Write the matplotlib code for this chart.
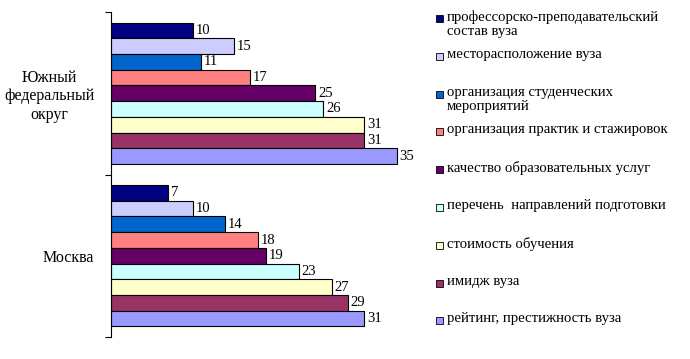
import numpy as np
import matplotlib.pyplot as plt
from matplotlib.patches import Rectangle

plt.rcParams['font.family'] = ['Liberation Serif', 'DejaVu Serif']

regions = ['Южный\nфедеральный\nокруг', 'Москва']
factors = [
    'профессорско-преподавательский\nсостав вуза',
    'месторасположение вуза',
    'организация студенческих\nмероприятий',
    'организация практик и стажировок',
    'качество образовательных услуг',
    'перечень  направлений подготовки',
    'стоимость обучения',
    'имидж вуза',
    'рейтинг, престижность вуза',
]
south = [10, 15, 11, 17, 25, 26, 31, 31, 35]
moscow = [7, 10, 14, 18, 19, 23, 27, 29, 31]
colors = ['#000080', '#CCCCFF', '#0066CC', '#FF8080', '#660066',
          '#CCFFFF', '#FFFFCC', '#993366', '#9999FF']

W, H = 690, 359
fig = plt.figure(figsize=(W / 100, H / 100), dpi=100)
# axes in pixel terms: left spine at x=111, from y=12 to y=337
px_per_unit = 8.17
xmax = 38
ax = fig.add_axes([111 / W, (H - 337) / H, xmax * px_per_unit / W, 325 / H])

n = len(factors)
group_h = 0.87
bar_h = group_h / n
centers = np.arange(len(regions)) + 0.5
vals = np.array([south, moscow]).T  # factor x region

for i in range(n):
    y = centers - group_h / 2 + bar_h * (i + 0.5)
    bars = ax.barh(y, vals[i], height=bar_h, color=colors[i],
                   edgecolor='black', linewidth=0.8)
    ax.bar_label(bars, padding=2, fontsize=10.5)

ax.set_xlim(0, xmax)
ax.set_ylim(2, 0)
for s in ['top', 'right', 'bottom']:
    ax.spines[s].set_visible(False)
ax.spines['left'].set_linewidth(0.8)
ax.set_xticks([])
ax.set_yticks([0, 1, 2])
ax.set_yticklabels([])
ax.tick_params(axis='y', which='major', length=4, width=0.8, direction='out')
ax.set_yticks(centers, minor=True)
ax.set_yticklabels(regions, minor=True, fontsize=11.5)
ax.tick_params(axis='y', which='minor', length=0, pad=12)
for lbl in ax.get_yticklabels(minor=True):
    lbl.set_multialignment('center')

# legend drawn by hand
for i, name in enumerate(factors):
    yc = 18.5 + 37.8 * i
    fig.patches.append(Rectangle((436 / W, (H - yc - 3.5) / H), 7 / W, 7 / H,
                                 transform=fig.transFigure, facecolor=colors[i],
                                 edgecolor='black', linewidth=0.6))
    fig.text(447 / W, (H - yc + 8.5) / H, name, fontsize=10.6, va='top',
             ha='left', linespacing=1.15)

fig.savefig('out.png', dpi=100)
